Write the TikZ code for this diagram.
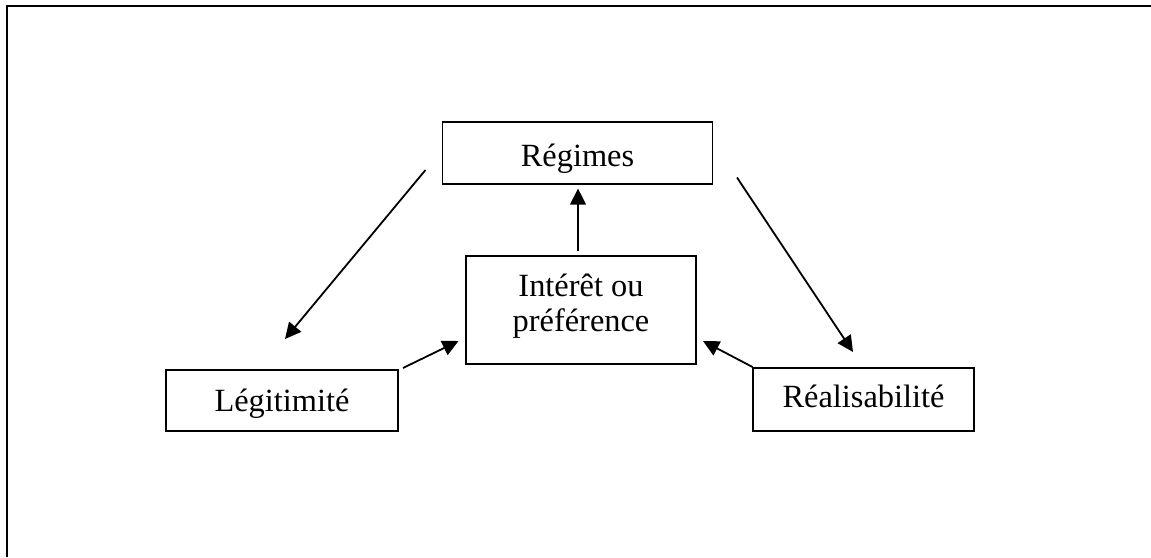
\documentclass[tikz,border=0pt]{standalone}
\usepackage{fontspec}
\setmainfont{Liberation Serif}
\usetikzlibrary{arrows.meta}

\tikzset{
  concept/.style={draw, line width=0.65pt, inner sep=0pt, align=center,
    font=\fontsize{16.2}{17.5}\selectfont, text depth=0pt},
  link/.style={line width=0.9pt, -{Triangle[length=8pt,width=7.8pt]}},
  frame/.style={line width=1.3pt, line join=miter}
}

\begin{document}
\begin{tikzpicture}[x=0.5pt, y=-0.5pt]
  \useasboundingbox (0,0) rectangle (1151,557);

  % outer frame
  \draw[frame] (7,557) -- (7,6) -- (1151,6);

  % concepts (text height places each last baseline inside its box)
  \node[concept, minimum width=135pt, minimum height=31pt, text height=13.7pt]
    (reg) at (577.5,153) {Régimes};
  \node[concept, minimum width=115pt, minimum height=54pt, text height=21pt]
    (int) at (581,310) {Intérêt ou\\préférence};
  \node[concept, minimum width=116pt, minimum height=30.5pt, text height=10.5pt]
    (leg) at (282,400.5) {Légitimité};
  \node[concept, minimum width=110.5pt, minimum height=31.5pt, text height=8pt]
    (rea) at (863.5,399.5) {Réalisabilité};

  % connector ends
  \coordinate (intTop) at (578,250.5);
  \coordinate (regBot) at (578,188.5);
  \coordinate (regLeft) at (425.5,170);
  \coordinate (legTip) at (285,339);
  \coordinate (regRight) at (737,177.5);
  \coordinate (reaTip) at (853,352);
  \coordinate (legOut) at (403,368);
  \coordinate (intLeft) at (458.5,341);
  \coordinate (reaOut) at (752.5,367);
  \coordinate (intRight) at (703,341);

  % influences
  \draw[link] (intTop) -- (regBot);
  \draw[link] (regLeft) -- (legTip);
  \draw[link] (regRight) -- (reaTip);
  \draw[link] (legOut) -- (intLeft);
  \draw[link] (reaOut) -- (intRight);
\end{tikzpicture}
\end{document}
